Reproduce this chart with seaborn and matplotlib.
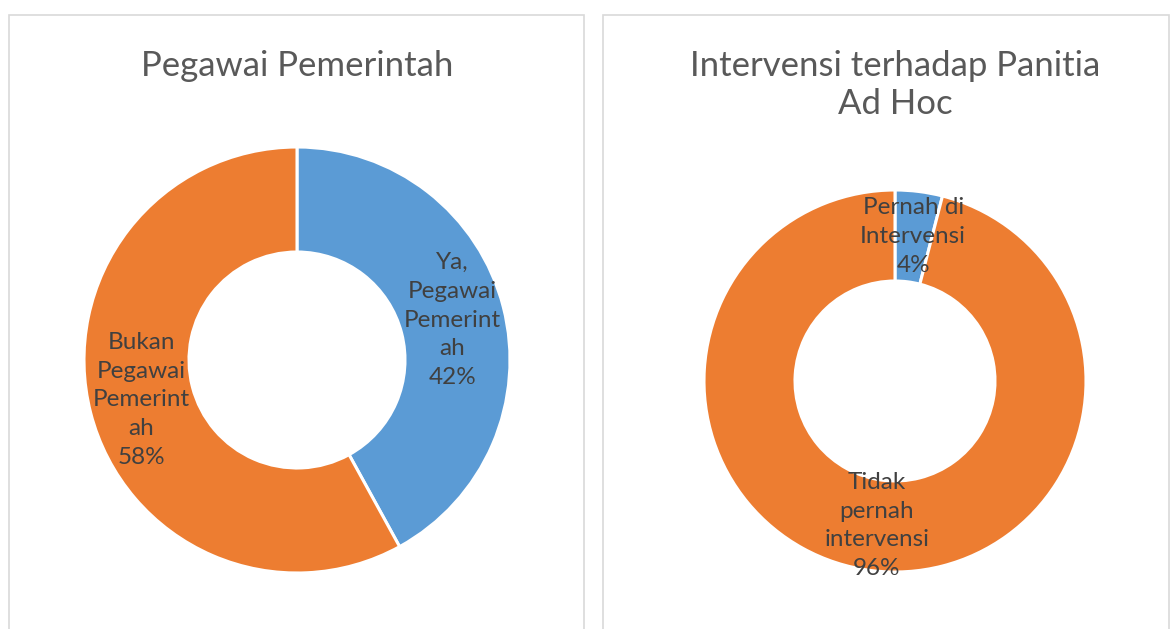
import matplotlib
matplotlib.use("Agg")
import matplotlib.pyplot as plt
import seaborn as sns
from matplotlib.patches import Rectangle

sns.set_theme(style="white")
plt.rcParams['font.family'] = ['Lato', 'DejaVu Sans']

# data
pegawai_labels = ["Ya,\nPegawai\nPemerint\nah", "Bukan\nPegawai\nPemerint\nah"]
pegawai_values = [42, 58]
intervensi_labels = ["Pernah di\nIntervensi", "Tidak\npernah\nintervensi"]
intervensi_values = [4, 96]
titles = ["Pegawai Pemerintah", "Intervensi terhadap Panitia\nAd Hoc"]

colors = ["#5B9BD5", "#ED7D31"]
W, H = 1176, 629
fig = plt.figure(figsize=(W / 100, H / 100), dpi=100)

# panel borders (pixel coords, top-origin)
for x0, x1 in [(9, 584), (603, 1169)]:
    fig.patches.append(Rectangle((x0 / W, -0.1), (x1 - x0) / W, (H - 15) / H + 0.1,
                                 transform=fig.transFigure, fill=False,
                                 edgecolor="#d9d9d9", linewidth=1.2))


def donut(cx, cy, R, r, labels, values, title, title_y):
    pad = 1.1
    size = 2 * R * pad
    ax = fig.add_axes([(cx - R * pad) / W, (H - cy - R * pad) / H, size / W, size / H])
    total = sum(values)
    texts = [f"{l}\n{v / total:.0%}" for l, v in zip(labels, values)]
    wedges, lbls = ax.pie(values, colors=colors, startangle=90, counterclock=False,
                          labels=texts, labeldistance=(1 + r / R) / 2,
                          wedgeprops=dict(width=1 - r / R, edgecolor="white", linewidth=2.2),
                          textprops=dict(fontsize=17.5, color="#404040", linespacing=1.45))
    for t in lbls:
        t.set_ha("center")
        t.set_va("center")
    ax.set_xlim(-pad, pad)
    ax.set_ylim(-pad, pad)
    ax.set_aspect("equal")
    ax.axis("off")
    fig.text(cx / W, 1 - title_y / H, title, ha="center", va="top", fontsize=25,
             color="#595959", linespacing=1.24)


donut(297, 360, 213, 108, pegawai_labels, pegawai_values, titles[0], 50)
donut(895, 381, 191, 100, intervensi_labels, intervensi_values, titles[1], 50)

fig.savefig("out.png", dpi=100)
